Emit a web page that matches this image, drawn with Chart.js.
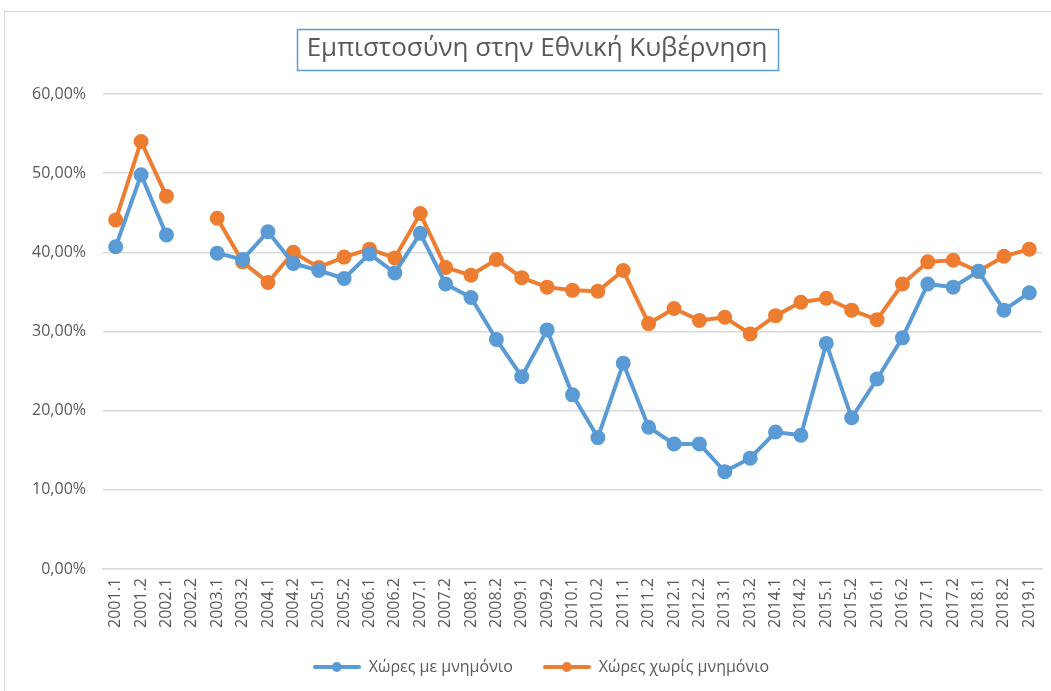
<!DOCTYPE html>
<html>
<head>
<meta charset="utf-8">
<script src="https://cdn.jsdelivr.net/npm/chart.js@4.4.1/dist/chart.umd.min.js"></script>
<style>
  html, body { margin: 0; padding: 0; background: #fff; overflow: hidden; width: 1051px; height: 691px; }
  #marco { position: absolute; left: 4px; top: 11px; width: 1064px; height: 690px; border: 1px solid #d9d9d9; box-sizing: border-box; }
  #grafico { display: block; }
</style>
</head>
<body>
<div id="marco"><canvas id="grafico" width="1062" height="688"></canvas></div>
<script>
// Periodos (semestres)
var periodos = ["2001.1","2001.2","2002.1","2002.2","2003.1","2003.2","2004.1","2004.2","2005.1","2005.2",
  "2006.1","2006.2","2007.1","2007.2","2008.1","2008.2","2009.1","2009.2","2010.1","2010.2",
  "2011.1","2011.2","2012.1","2012.2","2013.1","2013.2","2014.1","2014.2","2015.1","2015.2",
  "2016.1","2016.2","2017.1","2017.2","2018.1","2018.2","2019.1"];

// Paises con memorandum
var conMnimonio = [40.7, 49.8, 42.2, null, 39.9, 39.1, 42.6, 38.6, 37.7, 36.7,
  39.8, 37.4, 42.4, 36.0, 34.3, 29.0, 24.3, 30.2, 22.0, 16.6,
  26.0, 17.9, 15.8, 15.8, 12.3, 14.0, 17.3, 16.9, 28.5, 19.1,
  24.0, 29.2, 36.0, 35.6, 37.6, 32.7, 34.9];

// Paises sin memorandum
var sinMnimonio = [44.1, 54.0, 47.1, null, 44.3, 38.8, 36.2, 40.0, 38.1, 39.4,
  40.4, 39.3, 44.9, 38.1, 37.1, 39.1, 36.8, 35.6, 35.2, 35.1,
  37.7, 31.0, 32.9, 31.4, 31.8, 29.7, 32.0, 33.7, 34.2, 32.7,
  31.5, 36.0, 38.8, 39.0, 37.6, 39.5, 40.4];

var nombresSeries = ["Χώρες με μνημόνιο", "Χώρες χωρίς μνημόνιο"];
var titulo = "Εμπιστοσύνη στην Εθνική Κυβέρνηση";
var marcasEjeY = [0, 10, 20, 30, 40, 50, 60];

var azul = "#5b9bd5";
var naranja = "#ed7d31";
var gris = "#595959";
var fuente = "'Open Sans', 'Noto Sans', sans-serif";
var tamTitulo = 26;

// icono de leyenda: linea con punto
function iconoLeyenda(color) {
  var c = document.createElement("canvas");
  c.width = 48; c.height = 14;
  var x = c.getContext("2d");
  x.strokeStyle = color; x.lineWidth = 4; x.lineCap = "round";
  x.beginPath(); x.moveTo(2, 7); x.lineTo(46, 7); x.stroke();
  x.fillStyle = color;
  x.beginPath(); x.arc(24, 7, 5, 0, Math.PI * 2); x.fill();
  return c;
}

// mover titulo y leyenda un poco a la derecha, como en el original
const ajusteCentro = {
  id: "ajusteCentro",
  afterLayout(chart) {
    if (chart.titleBlock) chart.titleBlock.left += 27;
    if (chart.legend) {
      chart.legend.left += 35;
      if (chart.legend.adjustHitBoxes) chart.legend.adjustHitBoxes();
    }
  }
};

// recuadro azul alrededor del titulo
const recuadroTitulo = {
  id: "recuadroTitulo",
  afterDraw(chart) {
    const t = chart.titleBlock;
    if (!t) return;
    const ctx = chart.ctx;
    ctx.save();
    ctx.font = tamTitulo + "px " + fuente;
    const w = ctx.measureText(titulo).width;
    const cx = (t.left + t.right) / 2;
    const cy = t.top + t.options.padding.top + tamTitulo * 1.2 / 2;
    ctx.strokeStyle = azul;
    ctx.lineWidth = 1.5;
    ctx.strokeRect(Math.round(cx - w / 2 - 10) + 0.5, Math.round(cy - 20.5) + 0.5, Math.round(w + 20), 41);
    ctx.restore();
  }
};

const datos = {
  labels: periodos,
  datasets: [
    {
      label: nombresSeries[0],
      data: conMnimonio,
      borderColor: azul,
      backgroundColor: azul,
      icono: iconoLeyenda(azul),
      borderWidth: 4,
      pointStyle: "circle",
      pointRadius: 5.5,
      pointHoverRadius: 5.5,
      tension: 0,
      spanGaps: false,
    },
    {
      label: nombresSeries[1],
      data: sinMnimonio,
      borderColor: naranja,
      backgroundColor: naranja,
      icono: iconoLeyenda(naranja),
      borderWidth: 4,
      pointStyle: "circle",
      pointRadius: 5.5,
      pointHoverRadius: 5.5,
      tension: 0,
      spanGaps: false,
    },
  ],
};

const config = {
  type: "line",
  data: datos,
  options: {
    responsive: false,
    animation: false,
    layout: { padding: { left: 0, right: 25, top: 0, bottom: 15 } },
    plugins: {
      title: {
        display: true,
        text: titulo,
        color: gris,
        font: { family: fuente, size: tamTitulo, weight: "normal", lineHeight: 1.2 },
        padding: { top: 21.4, bottom: 29.4 },
      },
      legend: {
        position: "bottom",
        labels: {
          color: gris,
          font: { family: fuente, size: 16 },
          usePointStyle: true,
          pointStyleWidth: 48,
          boxHeight: 14,
          padding: 30,
          generateLabels: function (chart) {
            return chart.data.datasets.map(function (ds, i) {
              return {
                text: ds.label,
                fontColor: gris,
                pointStyle: ds.icono,
                datasetIndex: i,
                hidden: false,
                lineWidth: 0,
              };
            });
          },
        },
      },
      tooltip: { enabled: false },
    },
    scales: {
      x: {
        offset: true,
        grid: { display: false, drawTicks: false },
        border: { color: "#d9d9d9", width: 1.5 },
        afterFit: function (eje) { eje.height = 60; },
        ticks: {
          color: gris,
          font: { family: fuente, size: 16 },
          maxRotation: 90,
          minRotation: 90,
          autoSkip: false,
          padding: 9,
        },
      },
      y: {
        min: 0,
        max: 60,
        grid: { color: "#d9d9d9", lineWidth: 1.5, drawTicks: false },
        border: { display: false },
        afterFit: function (eje) { eje.width = 98; },
        afterBuildTicks: function (eje) { eje.ticks = marcasEjeY.map(function (v) { return { value: v }; }); },
        ticks: {
          color: gris,
          font: { family: fuente, size: 16 },
          padding: 17,
          callback: function (v) { return v.toFixed(2).replace(".", ",") + "%"; },
        },
      },
    },
  },
  plugins: [ajusteCentro, recuadroTitulo],
};

const ctx = document.getElementById("grafico").getContext("2d");
new Chart(ctx, config);
</script>
</body>
</html>
